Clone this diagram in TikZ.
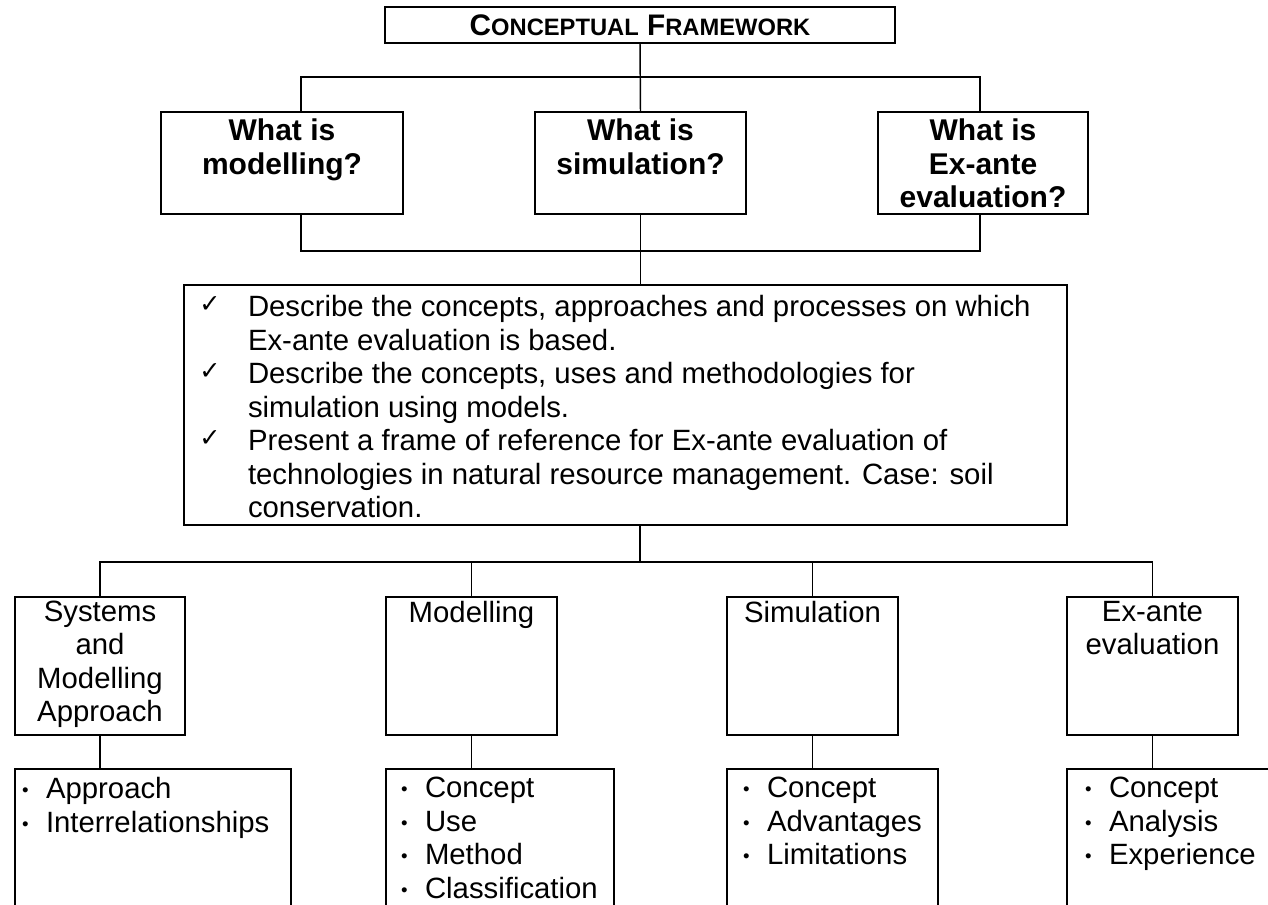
\documentclass[tikz,border=0pt]{standalone}
\usepackage{fontspec}
\setmainfont{Liberation Sans}
\newfontfamily\symfont{DejaVu Sans}
% first letter full size, the rest as reduced capitals
\newcommand\smc[2]{#1{\fontsize{17.8pt}{20pt}\selectfont #2}}
% bullet followed by a fixed gap
\newcommand\bul{\makebox[18pt][l]{\raisebox{1.4pt}{\fontsize{14pt}{14pt}\selectfont\textbullet}}}
\begin{document}
\begin{tikzpicture}[x=0.75pt,y=-0.75pt,
  sz/.style 2 args={minimum width=#1*0.75pt,minimum height=#2*0.75pt},
  box/.style={draw=black, line width=1.1pt, rectangle, inner sep=0pt, outer sep=0pt},
  txt/.style={inner sep=0pt, outer sep=0pt, align=center, font=\fontsize{22pt}{25.1pt}\selectfont},
  btxt/.style={txt, font=\fontsize{22.5pt}{25.1pt}\selectfont\bfseries},
  ltxt/.style={txt, align=left},
  chk/.style={inner sep=0pt, font=\symfont\fontsize{19pt}{19pt}\selectfont},
  wire/.style={draw=black, line width=1.1pt}
]
\clip (0,0) rectangle (1268,904);
\fill[white] (0,0) rectangle (1268,904);

% title
\node[box, sz={510}{36}, font=\fontsize{22.3pt}{25pt}\selectfont\bfseries] (title) at (640,25)
  {\smc{C}{ONCEPTUAL} \smc{F}{RAMEWORK}};

% three questions
\node[box, sz={242}{102}] (q1) at (282,163) {};
\node[box, sz={211}{102}] (q2) at (640.5,163) {};
\node[box, sz={210}{102}] (q3) at (983,163) {};
\node[btxt, anchor=north] (q1t) at (282,119) {What is\\modelling?};
\node[btxt, anchor=north] (q2t) at (640.5,119) {What is\\simulation?};
\node[btxt, anchor=north] (q3t) at (983,119) {What is\\Ex-ante\\evaluation?};

% objectives
\node[box, sz={883}{240}] (desc) at (625.5,405) {};
\node[ltxt, anchor=north west] (desct) at (248,295.5)
  {Describe the concepts, approaches and processes on which\\
   Ex-ante evaluation is based.\\
   Describe the concepts, uses and methodologies for\\
   simulation using models.\\
   Present a frame of reference for Ex-ante evaluation of\\
   technologies in natural resource management. Case: soil\\
   conservation.};
\node[chk] (c1) at (210,305) {✓};
\node[chk] (c2) at (210,372) {✓};
\node[chk] (c3) at (210,439) {✓};

% topics
\node[box, sz={170}{138}] (s1) at (100,666) {};
\node[box, sz={171}{138}] (s2) at (471.5,666) {};
\node[box, sz={171}{138}] (s3) at (812.5,666) {};
\node[box, sz={171}{138}] (s4) at (1152.5,666) {};
\node[txt, anchor=north] (s1t) at (100,601) {Systems\\and\\Modelling\\Approach};
\node[txt, anchor=north] (s2t) at (471.5,601) {Modelling};
\node[txt, anchor=north] (s3t) at (812.5,601) {Simulation};
\node[txt, anchor=north] (s4t) at (1152.5,601) {Ex-ante\\evaluation};

% contents (boxes run past the lower edge)
\node[box, sz={276}{200}] (l1) at (153,869) {};
\node[box, sz={228}{200}] (l2) at (500,869) {};
\node[box, sz={211}{200}] (l3) at (832.5,869) {};
\node[box, sz={233}{200}] (l4) at (1183.5,869) {};
\node[ltxt, anchor=north west] (l1t) at (22,777.3) {\bul Approach\\\bul Interrelationships};
\node[ltxt, anchor=north west] (l2t) at (401,777.3) {\bul Concept\\\bul Use\\\bul Method\\\bul Classification};
\node[ltxt, anchor=north west] (l3t) at (743,777.3) {\bul Concept\\\bul Advantages\\\bul Limitations};
\node[ltxt, anchor=north west] (l4t) at (1085,777.3) {\bul Concept\\\bul Analysis\\\bul Experience};

% connectors
\coordinate (tbarL) at (301,77);
\coordinate (tbarR) at (980,77);
\coordinate (bbarL) at (301,251);
\coordinate (bbarR) at (980,251);
\coordinate (cbar) at (640,562);
\draw[wire] (title.south) -- (q2.north);
\draw[wire] (q1.north -| tbarL) -- (tbarL) -- (tbarR) -- (q3.north -| tbarR);
\draw[wire] (q1.south -| bbarL) -- (bbarL) -- (bbarR) -- (q3.south -| bbarR);
\draw[wire] (q2.south) -- (q2.south |- desc.north);
\draw[wire] (desc.south -| cbar) -- (cbar);
\draw[wire] (s1.north) -- (s1.north |- cbar) -- (s4.north |- cbar) -- (s4.north);
\draw[wire] (s2.north) -- (s2.north |- cbar);
\draw[wire] (s3.north) -- (s3.north |- cbar);
\draw[wire] (s1.south) -- (s1.south |- l1.north);
\draw[wire] (s2.south) -- (s2.south |- l2.north);
\draw[wire] (s3.south) -- (s3.south |- l3.north);
\draw[wire] (s4.south) -- (s4.south |- l4.north);
\end{tikzpicture}
\end{document}
